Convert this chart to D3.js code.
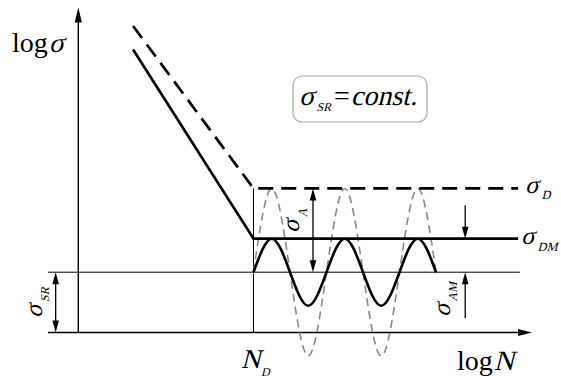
<!DOCTYPE html>
<html>
<head>
<meta charset="utf-8">
<script src="https://cdn.jsdelivr.net/npm/d3@7"></script>
<style>
  body { margin: 0; background: #fff; }
</style>
</head>
<body>
<svg id="chart" width="561" height="378" font-family="Liberation Serif, DejaVu Serif, serif"></svg>
<script>
// Schematic S–N (Wöhler) diagram in log σ / log N with a constant mean stress σ_SR.
// All values are in abstract log units.

// Axis extents
const logNMin = -0.83;          // left end of the baseline / mean-stress line
const logNAxisEnd = 12.43;      // x-axis arrow tip
const logSigmaAxisEnd = 9.7;    // y-axis arrow tip
const lineEndN = 12.05;         // right end of the fatigue-limit lines
const meanLineEndN = 12.1;

// S–N curves
const N_D = 4.8;                          // knee point
const slopeStartN = 1.5;
const sigma_SR = 1.8;                     // mean stress
const sigma_AM = 1.0;                     // amplitude at mean stress
const sigma_A = 2.5;                      // amplitude for zero mean
const sigma_DM = sigma_SR + sigma_AM;     // fatigue limit with mean stress
const sigma_D = sigma_SR + sigma_A;       // fatigue limit
const slopeStartSigmaDM = 8.45;
const slopeStartSigmaD = 9.15;

// Load history: normalised stress at quarter-cycle steps (2.5 cycles)
const quarterStep = 0.5;
const loadPhase = [0, 1, 0, -1, 0, 1, 0, -1, 0, 1, 0];

// Annotation arrows (logN position, from σ, to σ)
const arrowSR = { n: -0.62, from: 0, to: sigma_SR };
const arrowA = { n: 6.43, from: sigma_SR, to: sigma_D };
const arrowAM = { n: 10.6, from: 0.43, to: sigma_SR };
const arrowDrop = { n: 10.6, from: 3.8, to: sigma_DM };

const svg = d3.select("#chart");
const x = d3.scaleLinear().domain([0, 12]).range([78.3, 516.3]);
const y = d3.scaleLinear().domain([0, 10]).range([332.5, 332.5 - 335]);

const line = d3.line().x(d => x(d[0])).y(d => y(d[1]));
const SERIF = "Liberation Serif";

// upright text
function txt(parent, xx, yy, size) {
  return parent.append("text").attr("x", xx).attr("y", yy)
    .attr("font-family", SERIF).attr("font-size", size).attr("fill", "#000");
}
// slanted (math italic) text
function itxt(parent, xx, yy, size) {
  const g = parent.append("g").attr("transform", `translate(${xx},${yy}) skewX(-14)`);
  return txt(g, 0, 0, size);
}

// Filled arrow head, tip at (tx, ty) pointing in direction (dx, dy)
function head(tx, ty, dx, dy, len = 12, hw = 3.3) {
  const px = -dy, py = dx;
  const bx = tx - dx * len, by = ty - dy * len;
  svg.append("path")
    .attr("d", `M${tx},${ty}L${bx + px * hw},${by + py * hw}L${bx - px * hw},${by - py * hw}Z`)
    .attr("fill", "#000");
}

// Baselines: x-axis and mean-stress line
svg.append("path").attr("d", line([[logNMin, 0], [logNAxisEnd - 0.3, 0]]))
  .attr("stroke", "#000").attr("stroke-width", 1.4).attr("fill", "none");
head(x(logNAxisEnd), y(0), 1, 0, 14, 3.4);

svg.append("path").attr("d", line([[logNMin, sigma_SR], [meanLineEndN, sigma_SR]]))
  .attr("stroke", "#000").attr("stroke-width", 1).attr("fill", "none");

// y-axis
svg.append("path").attr("d", line([[0, 0], [0, logSigmaAxisEnd - 0.3]]))
  .attr("stroke", "#000").attr("stroke-width", 1.4).attr("fill", "none");
head(x(0), y(logSigmaAxisEnd), 0, -1, 15, 3.6);

// Knee line at N_D
svg.append("path").attr("d", line([[N_D, 0], [N_D, sigma_D]]))
  .attr("stroke", "#000").attr("stroke-width", 1).attr("fill", "none");

// Load cycles
const cycle = (amp) => loadPhase.map((p, i) => [N_D + i * quarterStep, sigma_SR + amp * p]);
const curve = d3.line().x(d => x(d[0])).y(d => y(d[1])).curve(d3.curveNatural);

svg.append("path").attr("d", curve(cycle(sigma_A)))
  .attr("stroke", "#888").attr("stroke-width", 1.6).attr("fill", "none")
  .attr("stroke-dasharray", "8,5");

svg.append("path").attr("d", curve(cycle(sigma_AM)))
  .attr("stroke", "#000").attr("stroke-width", 2.6).attr("fill", "none");

// S–N curves
svg.append("path")
  .attr("d", line([[slopeStartN, slopeStartSigmaD], [N_D, sigma_D], [lineEndN, sigma_D]]))
  .attr("stroke", "#000").attr("stroke-width", 2.7).attr("fill", "none")
  .attr("stroke-dasharray", "15,8");

svg.append("path")
  .attr("d", line([[slopeStartN, slopeStartSigmaDM], [N_D, sigma_DM], [lineEndN, sigma_DM]]))
  .attr("stroke", "#000").attr("stroke-width", 2.7).attr("fill", "none");

// Dimension arrows
function dim(a, top, bottom) {
  const xx = x(a.n);
  const y1 = y(a.from), y2 = y(a.to); // y1 below, y2 above
  svg.append("line").attr("x1", xx).attr("x2", xx)
    .attr("y1", y1 - (bottom ? 10 : 0)).attr("y2", y2 + (top ? 10 : 0))
    .attr("stroke", "#000").attr("stroke-width", 1.3);
  if (top) head(xx, y2, 0, -1);
  if (bottom) head(xx, y1, 0, 1);
}
dim(arrowSR, true, true);
dim(arrowA, true, true);
dim(arrowAM, true, false);
// downward arrow from σ_D to σ_DM
{
  const xx = x(arrowDrop.n);
  svg.append("line").attr("x1", xx).attr("x2", xx)
    .attr("y1", y(arrowDrop.from)).attr("y2", y(arrowDrop.to) - 10)
    .attr("stroke", "#000").attr("stroke-width", 1.3);
  head(xx, y(arrowDrop.to), 0, 1);
}

// σ with a subscript
function sigmaLabel(g, sub, size, subSize, subX, subDy) {
  itxt(g, 0, 0, size).text("σ");
  itxt(g, subX, subDy, subSize).text(sub);
}

// "log" followed by a slanted symbol
function logLabel(xx, yy, size, sym) {
  const t = txt(svg, xx, yy, size).text("log");
  const w = t.node().getComputedTextLength();
  itxt(svg, xx + w + 1, yy, size).text(sym);
}
logLabel(12, 52, 28, "σ");
logLabel(457, 370, 28, "N");

// N_D
itxt(svg, 241, 368, 27).text("N");
itxt(svg, 261, 375.5, 12).text("D");

// right-hand limits
sigmaLabel(svg.append("g").attr("transform", "translate(525,193)"), "D", 25, 12.5, 16.5, 6);
sigmaLabel(svg.append("g").attr("transform", "translate(521,244)"), "DM", 25, 12.5, 16.5, 7);

// rotated labels
sigmaLabel(svg.append("g").attr("transform", "translate(42,318) rotate(-90)"), "SR", 25, 12, 16, 7);
sigmaLabel(svg.append("g").attr("transform", "translate(298.5,233) rotate(-90)"), "A", 25, 12.5, 15.5, 8);
sigmaLabel(svg.append("g").attr("transform", "translate(450,317) rotate(-90)"), "AM", 25, 12, 15.5, 7);

// constant mean-stress note
svg.append("rect").attr("x", 293).attr("y", 76).attr("width", 134).attr("height", 46)
  .attr("rx", 9).attr("fill", "#fff").attr("stroke", "#aaa").attr("stroke-width", 1.2);
itxt(svg, 299, 105, 28).text("σ");
itxt(svg, 316.5, 110.5, 12).text("SR");
{
  const eq = txt(svg, 334, 105, 28).text("=");
  const w = eq.node().getComputedTextLength();
  itxt(svg, 334 + w + 1, 105, 28).text("const.");
}
</script>
</body>
</html>
